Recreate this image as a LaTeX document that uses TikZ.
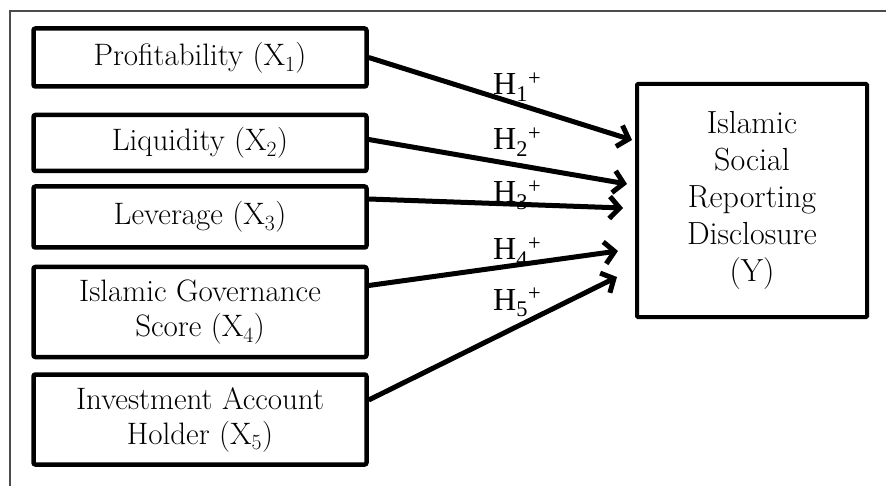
\documentclass[tikz,border=0pt]{standalone}
\usepackage{fontspec}
\newfontfamily\hfont{Liberation Serif}
\usetikzlibrary{arrows.meta,positioning}

\begin{document}
\begin{tikzpicture}[x=1pt,y=-1pt,
  varbox/.style={draw,line width=4.5pt,rounded corners=2pt,align=center,
    minimum width=333pt,minimum height=#1,inner sep=2pt,
    font=\fontsize{31}{35}\selectfont},
  hyp/.style={anchor=base west,inner sep=0pt,font=\hfont\fontsize{32}{34}\selectfont},
  arr/.style={-{Straight Barb[length=10pt,width=22pt]},line width=5pt}]
\useasboundingbox (0,0) rectangle (886,486);
\draw[black!70,line width=1.3pt] (10,486) -- (10,11) -- (886,11);
% independent variables
\node[varbox=58pt] (prof) at (200,57.5) {Profitability (X\textsubscript{1})};
\node[varbox=56pt,below=24pt of prof] (liq) {Liquidity (X\textsubscript{2})};
\node[varbox=61pt,below=11pt of liq] (lev) {Leverage (X\textsubscript{3})};
\node[varbox=90pt,below=15pt of lev] (igs) {Islamic Governance\\Score (X\textsubscript{4})};
\node[varbox=90pt,below=13pt of igs] (iah) {Investment Account\\Holder (X\textsubscript{5})};
% dependent variable
\node[draw,line width=4pt,rounded corners=1pt,align=center,minimum width=230pt,minimum height=233pt,
  font=\fontsize{32}{37}\selectfont] (isr) at (752,200.5)
  {Islamic\\Social\\Reporting\\Disclosure\\(Y)};
% hypothesis labels
\node[hyp] (h1) at (493,95) {H\textsubscript{1}\textsuperscript{+}};
\node[hyp] (h2) at (493,150) {H\textsubscript{2}\textsuperscript{+}};
\node[hyp] (h3) at (493,203) {H\textsubscript{3}\textsuperscript{+}};
\node[hyp] (h4) at (493,260) {H\textsubscript{4}\textsuperscript{+}};
\node[hyp] (h5) at (493,310) {H\textsubscript{5}\textsuperscript{+}};
% paths
\draw[arr] (prof.east) -- ([xshift=-3pt,yshift=60.5pt]isr.west);
\draw[arr] ([yshift=3.5pt]liq.east) -- ([xshift=-8pt,yshift=16.5pt]isr.west);
\draw[arr] ([yshift=18pt]lev.east) -- ([xshift=-12pt,yshift=-7.5pt]isr.west);
\draw[arr] ([yshift=26.5pt]igs.east) -- ([xshift=-17pt,yshift=-50.5pt]isr.west);
\draw[arr] ([yshift=19.5pt]iah.east) -- ([xshift=-18pt,yshift=-76.5pt]isr.west);
\end{tikzpicture}
\end{document}
